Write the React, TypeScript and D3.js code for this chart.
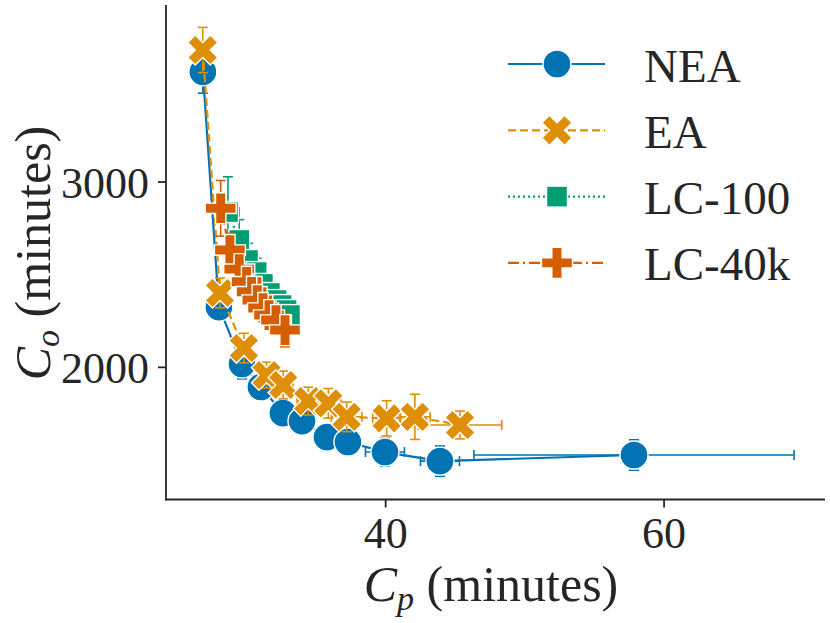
import * as d3 from "d3";

// C_p (minutes) / C_o (minutes)
const neaCp = [26.87, 28.02, 29.68, 31.04, 32.62, 33.99, 35.78, 37.29, 39.95, 43.9, 57.84];
const neaCo = [3594, 2325, 2018, 1894, 1753, 1710, 1624, 1597, 1543, 1494, 1527];
const neaCpErr = [0.4, 0.4, 0.5, 0.5, 0.6, 0.6, 0.7, 0.8, 1.4, 1.4, 11.5];
const neaCoErr = [115, 60, 80, 55, 60, 55, 72, 55, 75, 82, 82];

const eaCp = [26.86, 28.1, 29.82, 31.44, 32.64, 34.44, 35.88, 37.2, 40.07, 42.1, 45.34];
const eaCo = [3712, 2401, 2104, 1958, 1905, 1818, 1806, 1733, 1725, 1733, 1689];
const eaCpErr = [0.4, 0.5, 0.5, 0.6, 0.7, 0.8, 0.9, 1.1, 1.0, 1.1, 3.0];
const eaCoErr = [122, 80, 80, 70, 75, 75, 80, 80, 95, 122, 75];

const lc100Cp = [28.67, 29.48, 30.11, 30.73, 31.18, 31.68, 32.16, 32.52, 32.88, 33.12];
const lc100Co = [2838, 2687, 2579, 2514, 2450, 2401, 2363, 2336, 2309, 2282];
const lc100CpErr = [0.8, 0.7, 0.7, 0.6, 0.6, 0.5, 0.5, 0.5, 0.5, 0.4];
const lc100CoErr = [190, 110, 90, 75, 70, 60, 55, 50, 45, 45];

const lc40kCp = [28.15, 28.81, 29.48, 30.01, 30.37, 30.78, 31.19, 31.62, 32.12, 32.77];
const lc40kCo = [2858, 2633, 2530, 2462, 2408, 2363, 2320, 2282, 2255, 2201];
const lc40kCpErr = [0.5, 0.5, 0.4, 0.4, 0.4, 0.4, 0.4, 0.4, 0.4, 0.5];
const lc40kCoErr = [150, 90, 70, 60, 55, 50, 50, 50, 50, 90];

const seriesNames = ["NEA", "EA", "LC-100", "LC-40k"];
const xTicks = [40, 60];
const yTicks = [2000, 3000];

const colors = ["#0173b2", "#de8f05", "#029e73", "#d55e00"];
const dashes = ["none", "8,4", "2,3", "11,4,2,4"];
const shapes = ["circle", "x", "square", "plus"];
const textColor = "#262626";
const font = "'Liberation Serif', 'DejaVu Serif', serif";

const W = 830;
const H = 623;
const x = d3.scaleLinear().domain([24.22, 71.56]).range([166, 825]);
const y = d3.scaleLinear().domain([1287, 3955]).range([499.5, 5]);

const plusVerts = [
  [-1, -3], [1, -3], [1, -1], [3, -1], [3, 1], [1, 1],
  [1, 3], [-1, 3], [-1, 1], [-3, 1], [-3, -1], [-1, -1],
];

function polyPath(s: number, rot: number) {
  const c = Math.cos(rot);
  const sn = Math.sin(rot);
  return (
    plusVerts
      .map(([a, b], i) => {
        const px = (a * c - b * sn) * (s / 6);
        const py = (a * sn + b * c) * (s / 6);
        return `${i ? "L" : "M"}${px.toFixed(2)},${py.toFixed(2)}`;
      })
      .join("") + "Z"
  );
}

function Marker({ shape, cx, cy, color }: { shape: string; cx: number; cy: number; color: string }) {
  const common = { fill: color, stroke: "#fff", strokeWidth: 1.4 };
  if (shape === "circle") return <circle cx={cx} cy={cy} r={14} {...common} />;
  if (shape === "square")
    return <rect x={cx - 10.5} y={cy - 10.5} width={21} height={21} {...common} />;
  if (shape === "x")
    return <path d={polyPath(32, Math.PI / 4)} transform={`translate(${cx},${cy})`} {...common} />;
  return <path d={polyPath(31, 0)} transform={`translate(${cx},${cy})`} {...common} />;
}

const series = [
  { cp: neaCp, co: neaCo, cpErr: neaCpErr, coErr: neaCoErr },
  { cp: eaCp, co: eaCo, cpErr: eaCpErr, coErr: eaCoErr },
  { cp: lc100Cp, co: lc100Co, cpErr: lc100CpErr, coErr: lc100CoErr },
  { cp: lc40kCp, co: lc40kCo, cpErr: lc40kCpErr, coErr: lc40kCoErr },
].map((s, i) => ({
  name: seriesNames[i],
  color: colors[i],
  dash: dashes[i],
  shape: shapes[i],
  points: s.cp.map((cp, j) => ({ cp, co: s.co[j], ex: s.cpErr[j], ey: s.coErr[j] })),
}));

type Pt = { cp: number; co: number; ex: number; ey: number };
const line = d3
  .line<Pt>()
  .x((d) => x(d.cp))
  .y((d) => y(d.co));

export default function App() {
  const cap = 5;
  return (
    <svg
      width={W}
      height={H}
      viewBox={`0 0 ${W} ${H}`}
      style={{ position: "absolute", left: 0, top: 0, background: "#fff" }}
      fontFamily={font}
    >
      {series.map((s) => (
        <g key={s.name}>
          <path
            d={line(s.points) || ""}
            fill="none"
            stroke={s.color}
            strokeWidth={2.2}
            strokeDasharray={s.dash}
          />
          {s.points.map((p, j) => {
            const cx = x(p.cp);
            const cy = y(p.co);
            const x0 = x(p.cp - p.ex);
            const x1 = x(p.cp + p.ex);
            const y0 = y(p.co - p.ey);
            const y1 = y(p.co + p.ey);
            return (
              <g key={j} stroke={s.color} strokeWidth={1.6} fill="none">
                <line x1={x0} x2={x1} y1={cy} y2={cy} />
                <line x1={x0} x2={x0} y1={cy - cap} y2={cy + cap} />
                <line x1={x1} x2={x1} y1={cy - cap} y2={cy + cap} />
                <line x1={cx} x2={cx} y1={y0} y2={y1} />
                <line x1={cx - cap} x2={cx + cap} y1={y0} y2={y0} />
                <line x1={cx - cap} x2={cx + cap} y1={y1} y2={y1} />
              </g>
            );
          })}
          {s.points.map((p, j) => (
            <Marker key={j} shape={s.shape} cx={x(p.cp)} cy={y(p.co)} color={s.color} />
          ))}
        </g>
      ))}

      {/* spines */}
      <line x1={166} x2={166} y1={5} y2={500.5} stroke={textColor} strokeWidth={1.8} />
      <line x1={165.1} x2={825} y1={499.5} y2={499.5} stroke={textColor} strokeWidth={1.8} />

      {xTicks.map((t) => (
        <g key={t} transform={`translate(${x(t)},0)`}>
          <line y1={499.5} y2={507.5} stroke={textColor} strokeWidth={1.8} />
          <text y={548} textAnchor="middle" fontSize={44} fill={textColor}>
            {t}
          </text>
        </g>
      ))}
      {yTicks.map((t) => (
        <g key={t} transform={`translate(0,${y(t)})`}>
          <line x1={158} x2={166} stroke={textColor} strokeWidth={1.8} />
          <text x={149} dy="0.36em" textAnchor="end" fontSize={44} fill={textColor}>
            {t}
          </text>
        </g>
      ))}

      <text x={491} y={601} textAnchor="middle" fontSize={50} fill={textColor}>
        <tspan fontStyle="italic">C</tspan>
        <tspan fontStyle="italic" fontSize={34} dy={9}>
          p
        </tspan>
        <tspan dy={-9}> (minutes)</tspan>
      </text>
      <text
        transform="translate(50,253) rotate(-90)"
        textAnchor="middle"
        fontSize={50}
        fill={textColor}
      >
        <tspan fontStyle="italic">C</tspan>
        <tspan fontStyle="italic" fontSize={34} dy={9}>
          o
        </tspan>
        <tspan dy={-9}> (minutes)</tspan>
      </text>

      {/* legend */}
      {series.map((s, i) => {
        const ly = 64 + i * 66.3;
        return (
          <g key={s.name}>
            <line
              x1={508}
              x2={605}
              y1={ly}
              y2={ly}
              stroke={s.color}
              strokeWidth={2.2}
              strokeDasharray={s.dash}
            />
            <Marker shape={s.shape} cx={557} cy={ly} color={s.color} />
            <text x={644} y={ly + 17.5} fontSize={47} fill={textColor}>
              {s.name}
            </text>
          </g>
        );
      })}
    </svg>
  );
}
